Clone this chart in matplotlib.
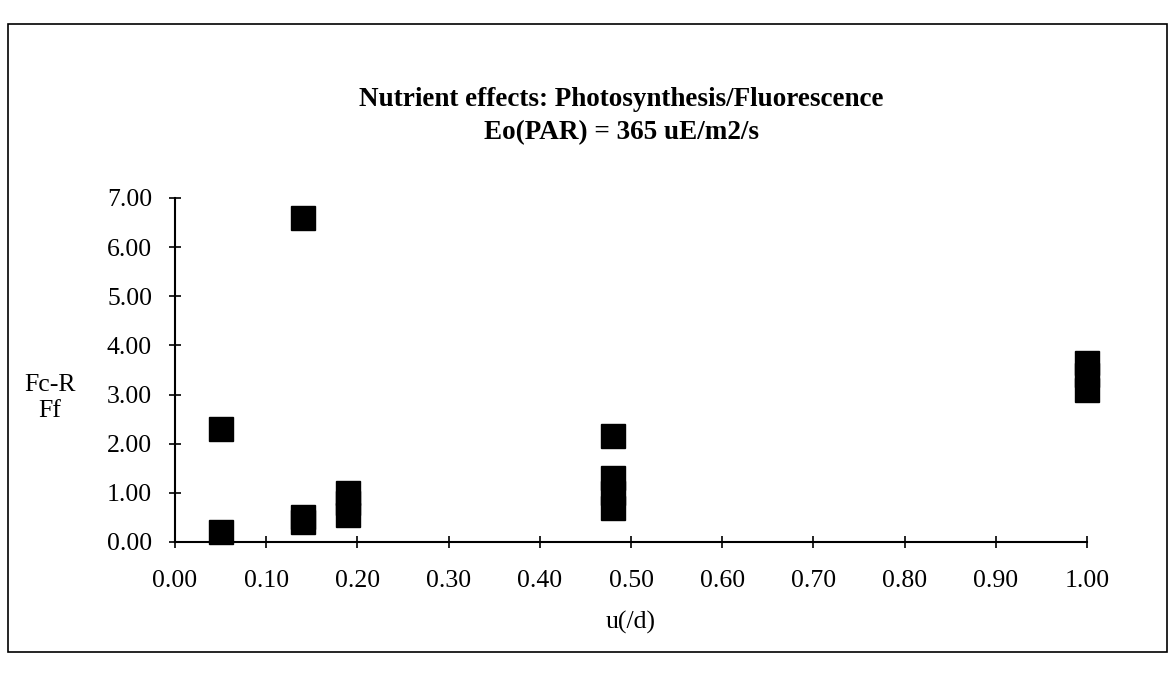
import matplotlib
matplotlib.use("Agg")
import matplotlib.pyplot as plt
from matplotlib.patches import Rectangle

# growth rate u (per day) vs Fc-R / Ff ratio
u_rate = [0.05, 0.05, 0.14, 0.14, 0.14, 0.19, 0.19, 0.19,
          0.48, 0.48, 0.48, 0.48, 1.00, 1.00, 1.00]
fc_ff = [2.30, 0.20, 6.60, 0.40, 0.50, 0.55, 0.80, 1.00,
         2.15, 0.70, 1.00, 1.30, 3.10, 3.40, 3.65]

x_ticks = [0.0, 0.1, 0.2, 0.3, 0.4, 0.5, 0.6, 0.7, 0.8, 0.9, 1.0]
y_ticks = [0, 1, 2, 3, 4, 5, 6, 7]

plt.rcParams['font.family'] = ['Liberation Serif', 'DejaVu Serif']

W, H = 1171, 673
fig = plt.figure(figsize=(W / 100, H / 100), dpi=100)

# page frame
fig.add_artist(Rectangle((8 / W, 1 - 652 / H), (1167 - 8) / W, (652 - 24) / H,
                         transform=fig.transFigure, fill=False, lw=1.2, color='black'))

ax = fig.add_axes([175 / W, 1 - 542 / H, (1087 - 175) / W, (542 - 198) / H])
ax.plot(u_rate, fc_ff, 's', color='black', markersize=17.5, clip_on=False, zorder=3)

ax.set_xlim(0, 1)
ax.set_ylim(0, 7)
ax.set_xticks(x_ticks)
ax.set_xticklabels([f'{v:.2f}' for v in x_ticks])
ax.set_yticks(y_ticks)
ax.set_yticklabels([f'{v:.2f}' for v in y_ticks])

for side in ['top', 'right']:
    ax.spines[side].set_visible(False)
for side in ['left', 'bottom']:
    ax.spines[side].set_linewidth(1.5)

ax.tick_params(axis='both', direction='inout', length=9, width=1.2, labelsize=18.5)
ax.tick_params(axis='x', pad=16)
ax.tick_params(axis='y', pad=12)

ax.set_xlabel('u(/d)', fontsize=18.5, labelpad=13)
fig.text(50 / W, 1 - 398 / H, 'Fc-R\nFf', fontsize=18.5, ha='center', va='center',
         linespacing=1.25)

fig.text(621 / W, 1 - 100 / H, 'Nutrient effects: Photosynthesis/Fluorescence',
         fontsize=19.5, fontweight='bold', ha='center', va='center')
fig.text(621 / W, 1 - 133 / H, 'Eo(PAR) = 365 uE/m2/s',
         fontsize=19.5, fontweight='bold', ha='center', va='center')

fig.savefig('out.png', dpi=100)
